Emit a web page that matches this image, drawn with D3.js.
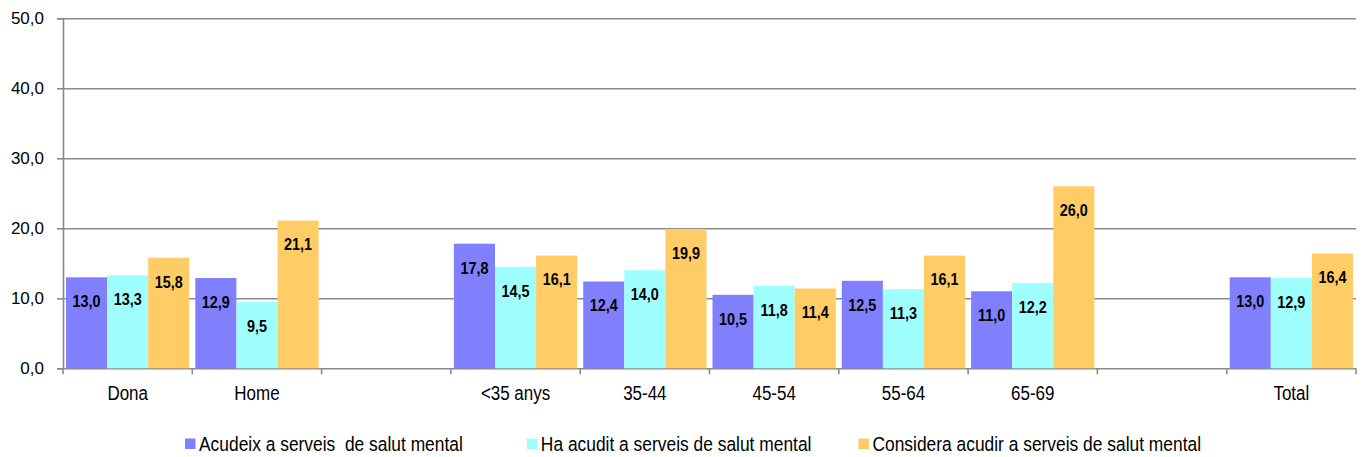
<!DOCTYPE html>
<html>
<head>
<meta charset="utf-8">
<script src="https://cdn.jsdelivr.net/npm/d3@7"></script>
<style>
  html, body { margin: 0; padding: 0; background: #fff; }
  svg { display: block; font-family: "Liberation Sans", Arial, sans-serif; }
  text { white-space: pre; }
</style>
</head>
<body>
<svg id="chart" width="1365" height="457"></svg>
<script>
// Categories (empty strings are spacer slots between groups)
const categories = ["Dona", "Home", "", "<35 anys", "35-44", "45-54", "55-64", "65-69", "", "Total"];
const seriesNames = [
  "Acudeix a serveis  de salut mental",
  "Ha acudit a serveis de salut mental",
  "Considera acudir a serveis de salut mental"
];
const acudeix   = [13.0, 12.9, null, 17.8, 12.4, 10.5, 12.5, 11.0, null, 13.0];
const haAcudit  = [13.3,  9.5, null, 14.5, 14.0, 11.8, 11.3, 12.2, null, 12.9];
const considera = [15.8, 21.1, null, 16.1, 19.9, 11.4, 16.1, 26.0, null, 16.4];
const yTicks = [0, 10, 20, 30, 40, 50];
const colors = ["#8080FF", "#9FFFFF", "#FFCC66"];

const series = [acudeix, haAcudit, considera];

const svg = d3.select("#chart");
const plotLeft = 63, plotRight = 1356, plotTop = 18.3, plotBottom = 368.3;
const fmt = v => d3.format(".1f")(v).replace(".", ",");

const x = d3.scaleBand().domain(d3.range(categories.length)).range([plotLeft, plotRight]).padding(0);
const xs = d3.scaleBand().domain(d3.range(series.length)).range([0, x.bandwidth()])
  .paddingInner(0).paddingOuter(0.073);
const y = d3.scaleLinear().domain([0, 50]).range([plotBottom, plotTop]);

// Horizontal gridlines
svg.append("g")
  .attr("transform", `translate(${plotLeft},0)`)
  .call(d3.axisLeft(y).tickValues(yTicks).tickSize(-(plotRight - plotLeft)).tickFormat(""))
  .call(g => g.select(".domain").remove())
  .call(g => g.selectAll("line").attr("stroke", "#8a8a8a").attr("stroke-width", 1.6));

// Bars
series.forEach((vals, s) => {
  svg.append("g").selectAll("rect")
    .data(vals.map((v, i) => ({ v, i })).filter(d => d.v != null))
    .join("rect")
    .attr("x", d => x(d.i) + xs(s))
    .attr("width", xs.bandwidth())
    .attr("y", d => y(d.v))
    .attr("height", d => y(0) - y(d.v))
    .attr("fill", colors[s]);
});

// Value labels just inside the top of each bar
series.forEach((vals, s) => {
  svg.append("g").selectAll("text")
    .data(vals.map((v, i) => ({ v, i })).filter(d => d.v != null))
    .join("text")
    .attr("transform", d => `translate(${x(d.i) + xs(s) + xs.bandwidth() / 2},${y(d.v) + 29.8}) scale(0.9,1)`)
    .attr("text-anchor", "middle")
    .attr("font-size", 16)
    .attr("font-weight", "bold")
    .attr("fill", "#000")
    .text(d => fmt(d.v));
});

// Y axis
svg.append("g")
  .attr("transform", `translate(${plotLeft},0)`)
  .call(d3.axisLeft(y).tickValues(yTicks).tickSize(6).tickPadding(13).tickFormat(fmt))
  .call(g => g.select(".domain").attr("stroke", "#8a8a8a").attr("stroke-width", 1.6))
  .call(g => g.selectAll("line").attr("stroke", "#8a8a8a").attr("stroke-width", 1.6))
  .call(g => g.selectAll("text").attr("font-size", 17).attr("fill", "#000")
    .attr("font-family", "Liberation Sans, Arial, sans-serif"));

// X axis: labels centred in slots, ticks on slot boundaries
const xAxis = svg.append("g")
  .attr("transform", `translate(0,${plotBottom})`)
  .call(d3.axisBottom(x).tickSize(0).tickPadding(18).tickFormat(i => categories[i]))
  .call(g => g.select(".domain").remove())
  .call(g => g.selectAll("text").attr("font-size", 19.5).attr("fill", "#000")
    .attr("transform", "scale(0.87,1)")
    .attr("font-family", "Liberation Sans, Arial, sans-serif"));

const bounds = d3.range(categories.length).map(i => x(i)).concat([plotRight]);
xAxis.selectAll("line.bound")
  .data(bounds)
  .join("line")
  .attr("class", "bound")
  .attr("x1", d => d).attr("x2", d => d)
  .attr("y1", 0).attr("y2", 6)
  .attr("stroke", "#8a8a8a").attr("stroke-width", 1.6);

// Legend
const legendScale = 0.892;
const legendGaps = [64, 47];
const legend = svg.append("g").attr("transform", "translate(185,0)");
let cx = 0;
seriesNames.forEach((name, s) => {
  const item = legend.append("g").attr("transform", `translate(${cx},0)`);
  item.append("rect").attr("x", 0).attr("y", 438.5).attr("width", 10.5).attr("height", 10.5)
    .attr("fill", colors[s]);
  const t = item.append("text")
    .attr("transform", `translate(14,451) scale(${legendScale},1)`)
    .attr("font-size", 19.5).attr("fill", "#000")
    .text(name);
  const w = t.node().getComputedTextLength() * legendScale;
  cx += 14 + w + (legendGaps[s] || 0);
});
</script>
</body>
</html>
